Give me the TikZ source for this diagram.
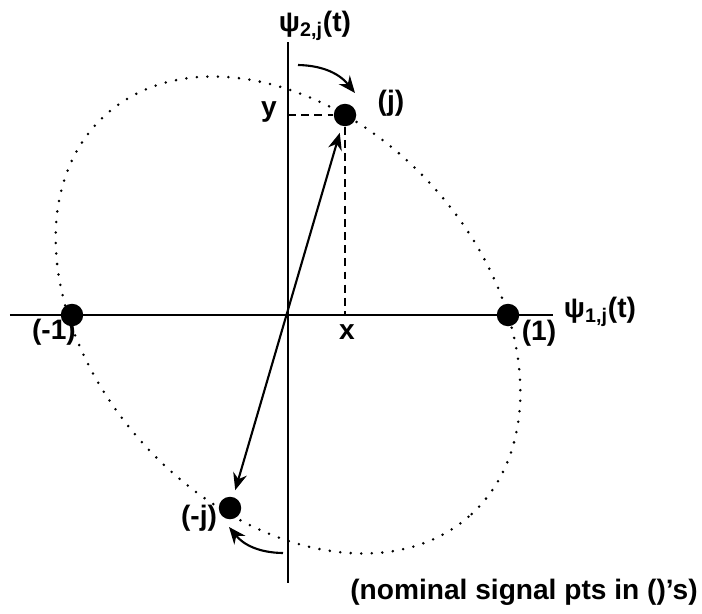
\documentclass[tikz,border=0pt]{standalone}
\usepackage{fontspec}
\setmainfont{Liberation Sans}
\usetikzlibrary{arrows.meta}

\begin{document}
\begin{tikzpicture}[
  x=0.02cm, y=0.02cm,
  font=\fontsize{16}{19}\selectfont\bfseries,
  axis/.style={line width=1.3pt},
  sig/.style={circle, fill=black, inner sep=0pt, minimum size=0.45cm},
  lbl/.style={inner sep=1pt},
  proj/.style={line width=1.2pt, dash pattern=on 4.5pt off 3pt},
  orbit/.style={line width=1.6pt, line cap=round, dash pattern=on 0pt off 6pt},
  fwd/.style={-{Stealth[length=3.4mm, width=2.8mm]}, line width=1.2pt},
  both/.style={{Stealth[length=3.4mm, width=2.8mm]}-{Stealth[length=3.4mm, width=2.8mm]}, line width=1.2pt},
]
\useasboundingbox (-288,-298) rectangle (414,315);

% ---- axes -------------------------------------------------------------------
\coordinate (o) at (0,0);
\coordinate (xl) at (-278,0);
\coordinate (xr) at (265,0);
\coordinate (yt) at (0,273);
\coordinate (yb) at (0,-268);
\draw[axis] (xl) -- (xr);
\draw[axis] (yt) -- (yb);
\node[lbl] (psi1) at (312,3) {ψ\textsubscript{1,j}(t)};
\node[lbl] (psi2) at (27,289) {ψ\textsubscript{2,j}(t)};

% ---- the orbit of the signal point ------------------------------------------
\draw[orbit, rotate=-47.3] (o) ellipse (270.8 and 193.7);

% ---- nominal signal points --------------------------------------------------
\node[sig] (pj) at (57,200) {};
\node[sig] (p1) at (220,0) {};
\node[sig] (m1) at (-216,0) {};
\node[sig] (mj) at (-58,-193) {};
\node[lbl] at (103,212) {(j)};
\node[lbl] at (251,-18) {(1)};
\node[lbl] at (-234,-17) {(-1)};
\node[lbl] at (-89,-203) {(-j)};

% ---- projections ------------------------------------------------------------
\coordinate (ya) at (0,200);
\coordinate (xa) at (57,0);
\draw[proj] (ya) -- (pj);
\draw[proj] (pj) -- (xa);
\node[lbl] (ylab) at (-19,203) {y};
\node[lbl] (xlab) at (59,-17) {x};

% ---- rotation ---------------------------------------------------------------
\draw[both, shorten <=4pt, shorten >=4pt] (mj) -- (pj);
\coordinate (ts) at (10,250);
\coordinate (te) at (67,222);
\draw[fwd] (ts) to[bend left=25] (te);
\coordinate (bs) at (-5,-238);
\coordinate (be) at (-59,-212);
\draw[fwd] (bs) to[bend left=25] (be);

\node[lbl] (note) at (236,-277) {(nominal signal pts in ()'s)};
\end{tikzpicture}
\end{document}
